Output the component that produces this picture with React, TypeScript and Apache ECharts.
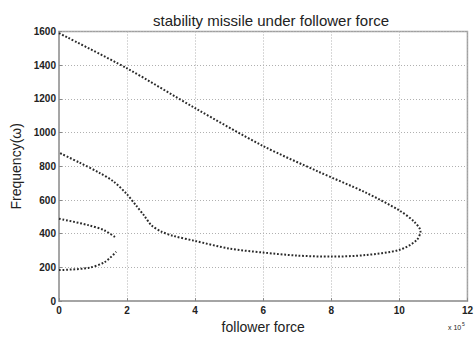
import React, { useEffect, useRef } from "react";
import * as echarts from "echarts";

const title = "stability missile under follower force";
const xName = "follower force";
const yName = "Frequency(ω)";
const xTicks = [0, 2, 4, 6, 8, 10, 12];
const yTicks = [0, 200, 400, 600, 800, 1000, 1200, 1400, 1600];

// Big loop: upper branch down to the tip, then lower branch back to x = 0
const loopX = [0, 2, 4, 6, 7.6, 9, 10, 10.45, 10.62, 10.5, 10, 9, 8, 7, 6, 5, 4, 3.34, 3.0, 2.71, 2.5, 2.27, 1.98, 1.6, 1.2, 0.6, 0];
const loopY = [1590, 1381, 1145, 920, 770, 645, 538, 468, 415, 360, 304, 273, 264, 270, 288, 312, 357, 388, 413, 451, 508, 566, 638, 710, 760, 822, 881];

// Small branch, upper part
const upX = [0, 0.86, 1.34, 1.68];
const upY = [489, 451, 419, 375];

// Small branch, lower part
const lowX = [0, 0.86, 1.34, 1.68];
const lowY = [184, 197, 231, 293];

const zip = (xs: number[], ys: number[]) => xs.map((x, i) => [x, ys[i]]);
const FONT = "Liberation Sans, Arial, sans-serif";

export default function App() {
  const ref = useRef<HTMLDivElement>(null);
  useEffect(() => {
    if (!ref.current) return;
    const chart = echarts.init(ref.current, undefined, { renderer: "svg" });
    const dotStyle = { color: "#2a2a2a", width: 2, type: [1.8, 1.8] as any, cap: "butt" as const };
    const series = [zip(loopX, loopY), zip(upX, upY), zip(lowX, lowY)].map((d) => ({
      type: "line" as const,
      data: d,
      smooth: 0.3,
      showSymbol: false,
      symbol: "none",
      lineStyle: dotStyle,
    }));
    chart.setOption({
      animation: false,
      backgroundColor: "#fff",
      textStyle: { fontFamily: FONT },
      title: {
        text: title,
        left: 266,
        textAlign: "center",
        top: 8,
        textStyle: { fontSize: 15, fontWeight: "normal", color: "#222", fontFamily: FONT },
      },
      grid: { left: 59, right: 5, top: 31.5, bottom: 29, show: true, borderColor: "#a0a0a0", borderWidth: 1.5 },
      xAxis: {
        type: "value",
        min: xTicks[0],
        max: xTicks[xTicks.length - 1],
        interval: 2,
        axisLine: { show: true, lineStyle: { color: "#a0a0a0", width: 1.5 } },
        axisTick: { show: true, inside: true, length: 3, lineStyle: { color: "#888" } },
        axisLabel: { fontSize: 10, color: "#222", fontWeight: "bold", margin: 4, formatter: (v: number) => String(v) },
        splitLine: { show: true, lineStyle: { color: "#b0b0b0", type: [1, 2], width: 1 } },
        name: xName,
        nameLocation: "middle",
        nameGap: 17,
        nameTextStyle: { fontSize: 14, color: "#222", fontFamily: FONT },
      },
      yAxis: {
        type: "value",
        min: yTicks[0],
        max: yTicks[yTicks.length - 1],
        interval: 200,
        axisLine: { show: true, lineStyle: { color: "#a0a0a0", width: 1.5 } },
        axisTick: { show: true, inside: true, length: 3, lineStyle: { color: "#888" } },
        axisLabel: { fontSize: 10, color: "#222", fontWeight: "bold", margin: 3, formatter: (v: number) => String(v) },
        splitLine: { show: true, lineStyle: { color: "#b0b0b0", type: [1, 2], width: 1 } },
        name: yName,
        nameLocation: "middle",
        nameGap: 32,
        nameTextStyle: { fontSize: 14, color: "#222", fontFamily: FONT },
      },
      graphic: [
        { type: "text", left: 448, top: 324, style: { text: "x 10", fontSize: 7, fill: "#222", fontFamily: FONT } },
        { type: "text", left: 462, top: 321, style: { text: "5", fontSize: 5, fill: "#222", fontFamily: FONT } },
      ],
      series,
    });
    return () => chart.dispose();
  }, []);
  return <div ref={ref} style={{ width: 476, height: 339, position: "absolute", left: 0, top: 0 }} />;
}
